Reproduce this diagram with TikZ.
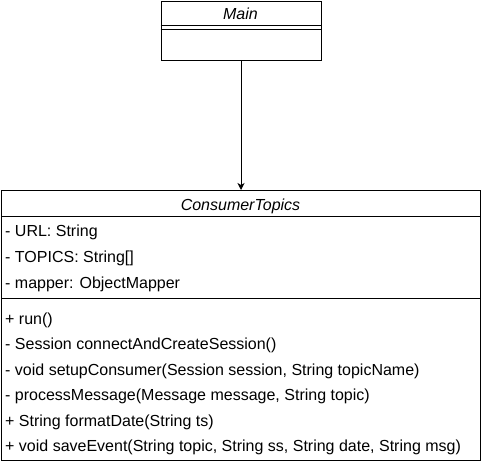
\documentclass[tikz,border=0pt]{standalone}
\usepackage{fontspec}
\setmainfont{Liberation Sans}
\usetikzlibrary{arrows.meta}
\begin{document}
\begin{tikzpicture}[x=1pt,y=-1pt,
  box/.style={draw,line width=1pt,rectangle,inner sep=0pt,anchor=north west},
  member/.style={anchor=west,inner sep=0pt,font=\fontsize{16}{18}\selectfont},
  title/.style={inner sep=0pt,font=\fontsize{16}{18}\selectfont\itshape},
  conn/.style={line width=1pt,-{Stealth[length=7pt,width=7pt,inset=2pt]}}]
\useasboundingbox (0,0) rectangle (481,462);
% Main class
\node[box,minimum width=160pt,minimum height=59pt] (main) at (160.5,1) {};
\draw[line width=1pt] (160.5,26) -- (320.5,26);
\draw[line width=1pt] (160.5,30) -- (320.5,30);
\node[title] (maint) at (240.5,14) {Main};
% ConsumerTopics class
\node[box,minimum width=479pt,minimum height=270pt] (ct) at (1,190) {};
\draw[line width=1pt] (1,216) -- (480,216);
\draw[line width=1pt] (1,298) -- (480,298);
\node[title] (ctt) at (240.5,206) {ConsumerTopics};
\node[member] (a1) at (5,232) {- URL: String};
\node[member] (a2) at (5,258) {- TOPICS: String[]};
\node[member] (a3) at (5,284) {- mapper: ObjectMapper};
\node[member] (m1) at (5,320) {+ run()};
\node[member] (m2) at (5,345.5) {- Session connectAndCreateSession()};
\node[member] (m3) at (5,371) {- void setupConsumer(Session session, String topicName)};
\node[member] (m4) at (5,396.5) {- processMessage(Message message, String topic)};
\node[member] (m5) at (5,422) {+ String formatDate(String ts)};
\node[member] (m6) at (5,447.5) {+ void saveEvent(String topic, String ss, String date, String msg)};
% connector
\draw[conn] (main.south) -- (ct.north);
\end{tikzpicture}
\end{document}
